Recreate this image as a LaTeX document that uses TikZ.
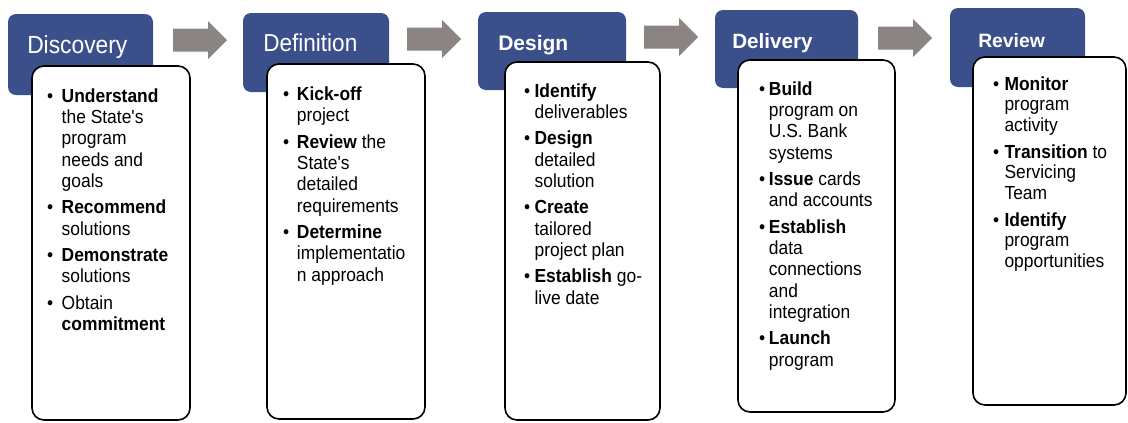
\documentclass[tikz,border=0pt]{standalone}
\usepackage{fontspec}
\setmainfont{Liberation Sans}[Ligatures=TeXOff, FakeStretch=0.92]
\newfontfamily\headsans{Liberation Sans}[Ligatures=TeXOff]

\definecolor{headblue}{RGB}{59,80,138}
\definecolor{arrowgray}{RGB}{138,132,130}

% bullet centred on the column start, followed by a gap before the text
\newcommand{\bul}[1]{\makebox[0pt]{\textbullet}\hspace{#1}}

\tikzset{
  headbox/.style={fill=headblue, rounded corners=6pt},
  listbox/.style={draw=black, fill=white, line width=1.2pt, rounded corners=9pt},
  headtext/.style={anchor=base west, inner sep=0pt, text=white},
  listtext/.style={anchor=base west, inner sep=0pt, font=\fontsize{14.2pt}{16pt}\selectfont},
  listtextb/.style={anchor=base west, inner sep=0pt, font=\fontsize{14.2pt}{15.5pt}\selectfont},
  blockarrow/.pic={\fill[arrowgray] (0,-11.5) -- (35,-11.5) -- (35,-19) -- (54,0)
                   -- (35,19) -- (35,11.5) -- (0,11.5) -- cycle;}
}

\begin{document}
\begin{tikzpicture}[x=0.75pt, y=-0.75pt]
\useasboundingbox (0,0) rectangle (1128,422);

% ---- stage headers ----
\fill[headbox] (8,14)    rectangle (153,95);
\fill[headbox] (243,13)  rectangle (389,92);
\fill[headbox] (478,12)  rectangle (626,90);
\fill[headbox] (715,10)  rectangle (858,88);
\fill[headbox] (950,8)   rectangle (1085,87);

\node[headtext, font=\fontsize{18.6pt}{22pt}\selectfont] (h1) at (27,53)  {Discovery};
\node[headtext, font=\fontsize{18.4pt}{22pt}\selectfont] (h2) at (263,51) {Definition};
\node[headtext, font=\headsans\fontsize{15.75pt}{19pt}\selectfont\bfseries] (h3) at (498,50) {Design};
\node[headtext, font=\headsans\fontsize{15.5pt}{19pt}\selectfont\bfseries] (h4) at (732,48) {Delivery};
\node[headtext, font=\headsans\fontsize{14.5pt}{18pt}\selectfont\bfseries] (h5) at (978,47) {Review};

% ---- arrows between stages ----
\pic at (173,40) {blockarrow};
\pic at (407,39) {blockarrow};
\pic at (644,37) {blockarrow};
\pic at (878,38) {blockarrow};

% ---- task boxes ----
\draw[listbox] (32,66)   rectangle (190,420);
\draw[listbox] (267,64)  rectangle (425,419);
\draw[listbox] (505,62)  rectangle (660,420);
\draw[listbox] (738,60)  rectangle (895,412);
\draw[listbox] (973,57)  rectangle (1126,405);

\node[listtext] (l1) at (50,102) {%
\begin{tabular}[t]{@{}l@{}l@{}}
\bul{8.6pt} & \textbf{Understand}\\
 & the State's\\
 & program\\
 & needs and\\
 & goals\\[3.75pt]
\bul{8.6pt} & \textbf{Recommend}\\
 & solutions\\[3.75pt]
\bul{8.6pt} & \textbf{Demonstrate}\\
 & solutions\\[3.75pt]
\bul{8.6pt} & Obtain\\
 & \textbf{commitment}
\end{tabular}};

\node[listtext] (l2) at (286,100.5) {%
\begin{tabular}[t]{@{}l@{}l@{}}
\bul{8pt} & \textbf{Kick-off}\\
 & project\\[3.75pt]
\bul{8pt} & \textbf{Review} the\\
 & State's\\
 & detailed\\
 & requirements\\[3.75pt]
\bul{8pt} & \textbf{Determine}\\
 & implementatio\\
 & n approach
\end{tabular}};

\node[listtext] (l3) at (527,97) {%
\begin{tabular}[t]{@{}l@{}l@{}}
\bul{5.5pt} & \textbf{Identify}\\
 & deliverables\\[3.75pt]
\bul{5.5pt} & \textbf{Design}\\
 & detailed\\
 & solution\\[3.75pt]
\bul{5.5pt} & \textbf{Create}\\
 & tailored\\
 & project plan\\[3.75pt]
\bul{5.5pt} & \textbf{Establish} go-\\
 & live date
\end{tabular}};

\node[listtext] (l4) at (762,95) {%
\begin{tabular}[t]{@{}l@{}l@{}}
\bul{5pt} & \textbf{Build}\\
 & program on\\
 & U.S. Bank\\
 & systems\\[3.75pt]
\bul{5pt} & \textbf{Issue} cards\\
 & and accounts\\[3.75pt]
\bul{5pt} & \textbf{Establish}\\
 & data\\
 & connections\\
 & and\\
 & integration\\[3.75pt]
\bul{5pt} & \textbf{Launch}\\
 & program
\end{tabular}};

\node[listtextb] (l5) at (996,90) {%
\begin{tabular}[t]{@{}l@{}l@{}}
\bul{6.2pt} & \textbf{Monitor}\\
 & program\\
 & activity\\[4.5pt]
\bul{6.2pt} & \textbf{Transition} to\\
 & Servicing\\
 & Team\\[4.5pt]
\bul{6.2pt} & \textbf{Identify}\\
 & program\\
 & opportunities
\end{tabular}};

\end{tikzpicture}
\end{document}
